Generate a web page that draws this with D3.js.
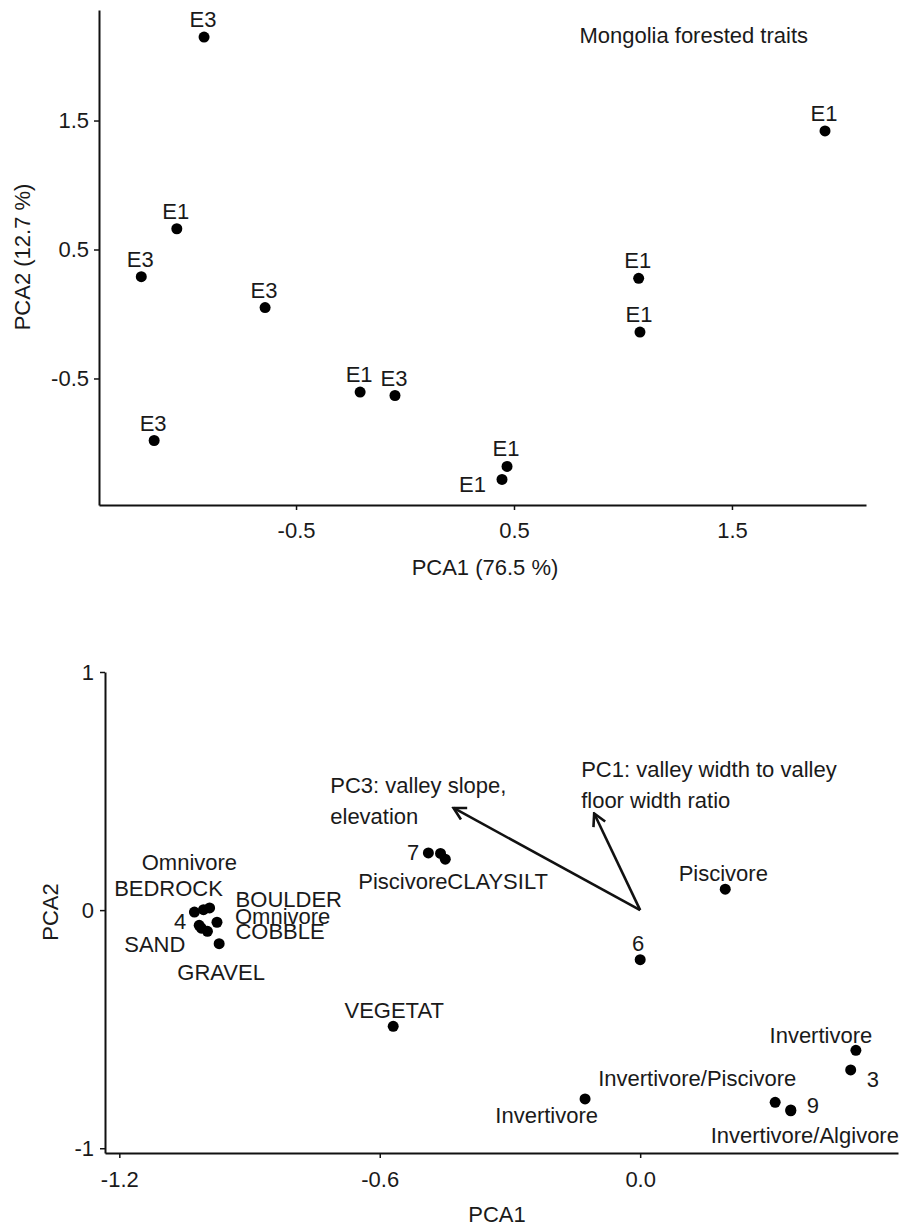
<!DOCTYPE html>
<html>
<head>
<meta charset="utf-8">
<script src="https://cdn.jsdelivr.net/npm/d3@7"></script>
<style>
  body { margin: 0; background: #fff; }
  svg text { font-family: "Liberation Sans", Arial, sans-serif; fill: #1a1a1a; }
</style>
</head>
<body>
<svg id="chart" width="912" height="1226"></svg>
<script>
// ---- top panel data (site scores) ----
const topLabels = ["E3", "E1", "E1", "E3", "E3", "E1", "E1", "E1", "E3", "E3", "E1", "E1"];
const topX = [-0.922, 1.927, -1.047, -1.210, -0.642, 1.072, 1.078, -0.206, -0.046, -1.151, 0.468, 0.445];
const topY = [2.147, 1.419, 0.661, 0.289, 0.050, 0.277, -0.140, -0.605, -0.632, -0.981, -1.182, -1.283];
const topXTicks = [-0.5, 0.5, 1.5];
const topYTicks = [-0.5, 0.5, 1.5];
const topTitle = "Mongolia forested traits";

// ---- bottom panel data (trait / substrate scores) ----
const botLabels = ["Omnivore", "BEDROCK", "BOULDER", "4", "COBBLE", "Omnivore", "SAND", "GRAVEL",
  "7", "Piscivore", "CLAYSILT", "6", "Piscivore", "VEGETAT", "Invertivore",
  "Invertivore/Piscivore", "9", "Invertivore/Algivore", "Invertivore", "3"];
const botX = [-1.027, -1.006, -0.992, -1.016, -0.997, -0.975, -1.011, -0.970,
  -0.488, -0.460, -0.449, 0.000, 0.196, -0.569, -0.127,
  0.311, 0.347, 0.347, 0.497, 0.485];
const botY = [-0.008, 0.002, 0.009, -0.064, -0.089, -0.051, -0.076, -0.141,
  0.240, 0.238, 0.214, -0.208, 0.088, -0.488, -0.793,
  -0.807, -0.839, -0.843, -0.589, -0.671];
const arrowNames = ["PC3", "PC1"];
const arrowX = [-0.430, -0.106];
const arrowY = [0.429, 0.406];
const arrowText = [["PC3: valley slope,", "elevation"], ["PC1: valley width to valley", "floor width ratio"]];
const arrowTextX = [-0.714, -0.136];
const arrowTextY = [0.490, 0.560];
const botXTicks = [-1.2, -0.6, 0.0];
const botYTicks = [-1, 0, 1];

// label placement (pixels from the point): anchor, dx, dy
const botNudge = [
  ["middle", -5, -42], ["middle", -35, -14], ["start", 26, -1], ["end", -13, 4],
  ["start", 28, 8], ["start", 18, 2], ["end", -16, 24], ["middle", 2, 36],
  ["end", -9, 7], ["end", 7, 36], ["start", 2, 30], ["middle", -2, -9],
  ["middle", -2, -8], ["middle", 1, -8], ["end", 13, 24],
  ["middle", -78, -16], ["start", 16, 3], ["middle", 14, 32], ["middle", -35, -7], ["start", 16, 17]
];

const svg = d3.select("#chart");
const FS = "22px";
// plain hyphen for negatives, like R output
const fmt1 = v => d3.format(".1f")(v).replace("\u2212", "-");
const fmt0 = v => d3.format("d")(v).replace("\u2212", "-");

function styleAxis(g) {
  g.selectAll("path.domain").attr("stroke", "#111").attr("stroke-width", 2);
  g.selectAll(".tick line").attr("stroke", "#111").attr("stroke-width", 1.5);
  g.selectAll(".tick text").style("font-size", FS).attr("fill", "#1a1a1a");
}

// ================= top panel =================
const xTop = d3.scaleLinear().domain([-1.404, 2.115]).range([99, 866]);
const yTop = d3.scaleLinear().domain([-1.481, 2.357]).range([505, 10]);

svg.append("g")
  .attr("transform", "translate(0,505)")
  .call(d3.axisBottom(xTop).tickValues(topXTicks).tickFormat(fmt1)
    .tickSize(5).tickSizeOuter(0).tickPadding(12))
  .call(styleAxis);

svg.append("g")
  .attr("transform", "translate(99,0)")
  .call(d3.axisLeft(yTop).tickValues(topYTicks).tickFormat(fmt1)
    .tickSize(5).tickSizeOuter(0).tickPadding(5))
  .call(styleAxis);

const topData = topLabels.map((l, i) => ({ label: l, x: topX[i], y: topY[i] }));

svg.append("g").selectAll("circle")
  .data(topData)
  .join("circle")
  .attr("cx", d => xTop(d.x))
  .attr("cy", d => yTop(d.y))
  .attr("r", 5.5)
  .attr("fill", "#000");

svg.append("g").selectAll("text")
  .data(topData)
  .join("text")
  .attr("x", (d, i) => xTop(d.x) + (i === 11 ? -16 : -1))
  .attr("y", (d, i) => yTop(d.y) + (i === 11 ? 13 : -10))
  .attr("text-anchor", (d, i) => i === 11 ? "end" : "middle")
  .style("font-size", FS)
  .text(d => d.label);

svg.append("text")
  .attr("x", xTop(0.8))
  .attr("y", yTop(2.1))
  .style("font-size", FS)
  .text(topTitle);

svg.append("text")
  .attr("x", 485).attr("y", 575)
  .attr("text-anchor", "middle")
  .style("font-size", FS)
  .text("PCA1 (76.5 %)");

svg.append("text")
  .attr("transform", "translate(30,257) rotate(-90)")
  .attr("text-anchor", "middle")
  .style("font-size", FS)
  .text("PCA2 (12.7 %)");

// ================= bottom panel =================
const xBot = d3.scaleLinear().domain([-1.233, 0.594]).range([105, 898]);
const yBot = d3.scaleLinear().domain([-1.02, 1.0]).range([1153, 672]);

svg.append("g")
  .attr("transform", "translate(0,1153)")
  .call(d3.axisBottom(xBot).tickValues(botXTicks).tickFormat(fmt1)
    .tickSize(5).tickSizeOuter(0).tickPadding(13))
  .call(styleAxis);

svg.append("g")
  .attr("transform", "translate(105,0)")
  .call(d3.axisLeft(yBot).tickValues(botYTicks).tickFormat(fmt0)
    .tickSize(5).tickSizeOuter(0).tickPadding(6))
  .call(styleAxis);

// arrows
svg.append("defs").append("marker")
  .attr("id", "head")
  .attr("markerUnits", "userSpaceOnUse")
  .attr("viewBox", "-14 -8 16 16")
  .attr("refX", 0).attr("refY", 0)
  .attr("markerWidth", 16).attr("markerHeight", 16)
  .attr("orient", "auto")
  .append("path")
  .attr("d", "M-12,-6.5L0,0L-12,6.5")
  .attr("fill", "none")
  .attr("stroke", "#111")
  .attr("stroke-width", 2.6);

svg.append("g").selectAll("line")
  .data(arrowNames)
  .join("line")
  .attr("x1", xBot(0)).attr("y1", yBot(0))
  .attr("x2", (d, i) => xBot(arrowX[i]))
  .attr("y2", (d, i) => yBot(arrowY[i]))
  .attr("stroke", "#111")
  .attr("stroke-width", 2.6)
  .attr("marker-end", "url(#head)");

const arrowLbl = svg.append("g").selectAll("text")
  .data(arrowNames)
  .join("text")
  .attr("x", (d, i) => xBot(arrowTextX[i]))
  .attr("y", (d, i) => yBot(arrowTextY[i]))
  .style("font-size", FS);
arrowLbl.selectAll("tspan")
  .data((d, i) => arrowText[i].map(t => ({ t, x: xBot(arrowTextX[i]) })))
  .join("tspan")
  .attr("x", d => d.x)
  .attr("dy", (d, j) => j === 0 ? 0 : 31)
  .text(d => d.t);

const botData = botLabels.map((l, i) => ({ label: l, x: botX[i], y: botY[i], n: botNudge[i] }));

svg.append("g").selectAll("circle")
  .data(botData)
  .join("circle")
  .attr("cx", d => xBot(d.x))
  .attr("cy", d => yBot(d.y))
  .attr("r", 5.5)
  .attr("fill", "#000");

svg.append("g").selectAll("text")
  .data(botData)
  .join("text")
  .attr("x", d => xBot(d.x) + d.n[1])
  .attr("y", d => yBot(d.y) + d.n[2])
  .attr("text-anchor", d => d.n[0])
  .style("font-size", FS)
  .text(d => d.label);

svg.append("text")
  .attr("x", 497).attr("y", 1222)
  .attr("text-anchor", "middle")
  .style("font-size", FS)
  .text("PCA1");

svg.append("text")
  .attr("transform", "translate(58,912) rotate(-90)")
  .attr("text-anchor", "middle")
  .style("font-size", FS)
  .text("PCA2");
</script>
</body>
</html>
